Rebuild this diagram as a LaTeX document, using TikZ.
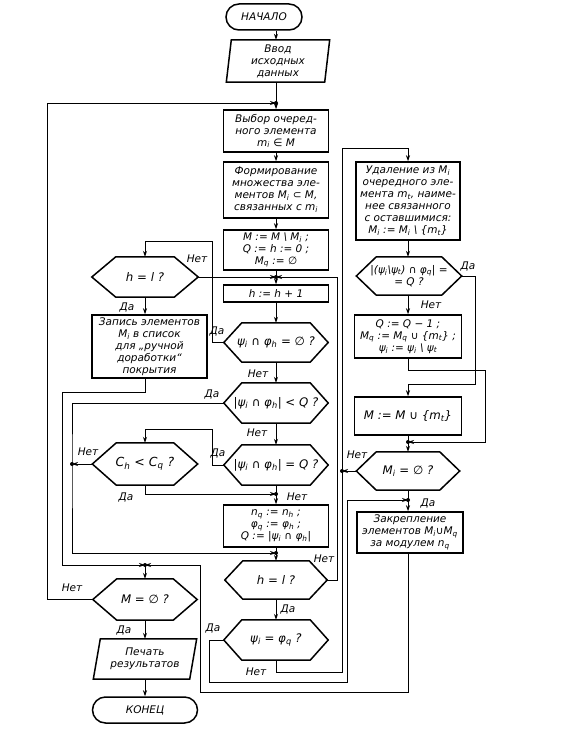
\documentclass[tikz,border=0pt]{standalone}
\usepackage{fontspec}
\setmainfont{DejaVu Sans}
\usetikzlibrary{arrows.meta,calc}
\newcommand\sbs[1]{\textsubscript{#1}}
\newcommand\fs{\fontsize{10.5}{12}\selectfont\itshape}
\newcommand\fsb{\fontsize{11.8}{13}\selectfont\itshape}
\newcommand\hexo[2][18]{\draw[line width=1.5pt] (#2.west) -- ($(#2.north west)+(#1,0)$) -- ($(#2.north east)+(-#1,0)$) -- (#2.east) -- ($(#2.south east)+(-#1,0)$) -- ($(#2.south west)+(#1,0)$) -- cycle;}
\newcommand\paro[2]{\draw[line width=1.5pt] ($(#1.north west)+(#2,0)$) -- (#1.north east) -- ($(#1.south east)+(-#2,0)$) -- (#1.south west) -- cycle;}
\tikzset{
 box/.style={draw, line width=1.5pt, rectangle, inner sep=0pt, align=center, font=\fs},
 pl/.style={rectangle, inner sep=0pt, align=center, font=\fs},
 hx/.style={rectangle, inner sep=0pt, align=center, font=\fsb},
 term/.style={draw, line width=1.5pt, rounded corners=13pt, inner sep=0pt, minimum height=26pt, align=center, font=\fs},
 conn/.style={line width=0.9pt},
 arr/.style={conn, -{Stealth[length=6pt,width=4pt]}},
 lab/.style={font=\fs, inner sep=0pt},
 dot/.style={circle, fill, inner sep=0pt, minimum size=4pt},
}
\begin{document}
\begin{tikzpicture}[x=1pt,y=-1pt]
\useasboundingbox (0,0) rectangle (577,738);
% main column
\node[term, minimum width=76pt] (start) at (264,17) {НАЧАЛО};
\node[pl, minimum width=103pt, minimum height=42pt] (input) at (278,61) {Ввод\\исходных\\данных};
\paro{input}{5}
\node[box, minimum width=105pt, minimum height=42pt] (select) at (276,131) {Выбор очеред-\\ного элемента\\m\sbs{i} ∈ M};
\node[box, minimum width=105pt, minimum height=56pt] (form) at (276,190) {Формирование\\множества эле-\\ментов M\sbs{i} ⊂ M,\\связанных с m\sbs{i}};
\node[box, minimum width=105pt, minimum height=40pt] (init) at (276,250) {M := M \textbackslash\ M\sbs{i} ;\\Q := h := 0 ;\\M\sbs{q} := ∅};
\node[box, minimum width=105pt, minimum height=17pt] (hplus) at (276,293.5) {h := h + 1};
\node[hx, minimum width=104pt, minimum height=39pt] (d1) at (276,342.5) {ψ\sbs{i} ∩ φ\sbs{h} = ∅ ?};
\hexo{d1}
\node[hx, minimum width=104pt, minimum height=40pt] (d2) at (276,403) {|ψ\sbs{i} ∩ φ\sbs{h}| < Q ?};
\hexo{d2}
\node[hx, minimum width=104pt, minimum height=40pt] (d3) at (276,465) {|ψ\sbs{i} ∩ φ\sbs{h}| = Q ?};
\hexo{d3}
\node[box, minimum width=105pt, minimum height=42pt] (nq) at (276,526) {n\sbs{q} := n\sbs{h} ;\\φ\sbs{q} := φ\sbs{h} ;\\Q := |ψ\sbs{i} ∩ φ\sbs{h}|};
\node[hx, minimum width=102pt, minimum height=38pt] (d4) at (276,580) {h = l ?};
\hexo{d4}
\node[hx, minimum width=104pt, minimum height=40pt] (d5) at (276,640) {ψ\sbs{i} = φ\sbs{q} ?};
\hexo{d5}
% left column
\node[hx, minimum width=106pt, minimum height=40pt] (L1) at (145,277) {h = l ?};
\hexo[24]{L1}
\node[box, minimum width=115pt, minimum height=63pt] (zap) at (149.5,346.5) {Запись элементов\\M\sbs{i} в список\\для „ручной\\доработки“\\покрытия};
\node[hx, minimum width=105pt, minimum height=42pt] (L2) at (145,464) {\fontsize{12.5}{13}\selectfont C\sbs{h} < C\sbs{q} ?};
\hexo[24]{L2}
\node[hx, minimum width=104pt, minimum height=41pt] (L3) at (145,599.5) {M = ∅ ?};
\hexo[24]{L3}
\node[pl, minimum width=103pt, minimum height=40pt] (print) at (145,659) {Печать\\результатов};
\paro{print}{7}
\node[term, minimum width=105pt] (end) at (145,710) {КОНЕЦ};
% right column
\node[box, minimum width=104pt, minimum height=78pt] (del) at (408,201) {Удаление из M\sbs{i}\\очередного эле-\\мента m\sbs{t}, наиме-\\нее связанного\\с оставшимися:\\M\sbs{i} := M\sbs{i} \textbackslash\ \{m\sbs{t}\}};
\node[pl, minimum width=105pt, minimum height=38pt] (R1) at (409,276) {|(ψ\sbs{i}\textbackslash ψ\sbs{t}) ∩ φ\sbs{q}| =\\= Q ?};
\hexo[20]{R1}
\node[box, minimum width=107pt, minimum height=43pt] (qb) at (408,336.5) {Q := Q − 1 ;\\M\sbs{q} := M\sbs{q} ∪ \{m\sbs{t}\} ;\\ψ\sbs{i} := ψ\sbs{i} \textbackslash\ ψ\sbs{t}};
\node[box, minimum width=107pt, minimum height=38pt, font=\fsb] (mu) at (408,416) {M := M ∪ \{m\sbs{t}\}};
\node[hx, minimum width=103pt, minimum height=38pt] (R2) at (408,471) {M\sbs{i} = ∅ ?};
\hexo[20]{R2}
\node[box, minimum width=106pt, minimum height=41pt] (fix) at (410,532.5) {Закрепление\\элементов M\sbs{i}∪M\sbs{q}\\за модулем n\sbs{q}};
% junctions
\node[dot] (J1) at (276,103) {};
\node[dot] (J2) at (276,277) {};
\node[dot] (J3) at (276,494) {};
\node[dot] (J4) at (276,553) {};
\node[dot] (J5) at (145,565) {};
\node[dot] (J6) at (408,442) {};
\node[dot] (J7) at (408,500) {};
\node[dot] (K1) at (72,464) {};
\node[dot] (K2) at (342,471) {};
% connectors
\draw[arr] (start.south -| J1) -- (input.north -| J1);
\draw[conn] (input.south -| J1) -- (J1.center);
\draw[arr] (J1.center) -- (select.north);
\draw[arr] (L3.west) -- ++(-45,0) |- (J1.center);
\draw[arr] (select.south) -- (form.north);
\draw[arr] (form.south) -- (init.north);
\draw[conn] (init.south) -- (J2.center);
\draw[arr] (J2.center) -- (hplus.north);
\draw[arr] (L1.east) -- (J2.center);
\draw[arr] (d4.east) -- (337,580) |- (J2.center);
\draw[arr] (hplus.south) -- (d1.north);
\draw[arr] (d1.west) -- (212,342.5) |- ($(L1.north)+(0,-15)$) -- (L1.north);
\draw[arr] (d1.south) -- (d2.north);
\draw[arr] (d2.west) -| (K1.center) |- (J4.center);
\draw[arr] (L2.west) -- (K1.center);
\draw[arr] (d2.south) -- (d3.north);
\draw[arr] (d3.west) -- (212,465) |- ($(L2.north)+(0,-13)$) -- (L2.north);
\draw[conn] (d3.south) -- (J3.center);
\draw[arr] (J3.center) -- (nq.north);
\draw[arr] (L2.south) |- (J3.center);
\draw[conn] (nq.south) -- (J4.center);
\draw[arr] (J4.center) -- (d4.north);
\draw[arr] (d4.south) -- (d5.north);
\draw[arr] (d5.west) -- (209,640) |- (347,682) |- (J7.center);
\draw[arr] (d5.south) |- (342,672) -- (342,148) -| (del.north);
\draw[arr] (R2.west) -- (K2.center);
\draw[arr] (L1.south) -- (L1.south |- zap.north);
\draw[arr] (zap.south -| L1.south) -- ++(0,14) -| (62,565) -- (J5.center);
\draw[arr] (fix.south -| J7) |- (200,692) |- (J5.center);
\draw[arr] (J5.center) -- (L3.north);
\draw[arr] (L3.south) -- (print.north);
\draw[arr] (print.south) -- (end.north);
\draw[arr] (del.south) -- (del.south |- R1.north);
\draw[arr] (R1.south -| qb) -- (qb.north);
\draw[arr] (R1.east) -- (475,276) |- ($(mu.north)+(0,-12)$) -- (mu.north);
\draw[arr] (qb.south) -- ++(0,12) -| (485,442) -- (J6.center);
\draw[conn] (mu.south) -- (J6.center);
\draw[arr] (J6.center) -- (R2.north);
\draw[conn] (R2.south) -- (J7.center);
\draw[arr] (J7.center) -- (fix.north -| J7);
% labels
\node[lab] (t1) at (197,259) {Нет};
\node[lab] (t2) at (127,307) {Да};
\node[lab] (t3) at (217,331) {Да};
\node[lab] (t4) at (258,374) {Нет};
\node[lab] (t5) at (212,394) {Да};
\node[lab] (t6) at (257,433) {Нет};
\node[lab] (t7) at (218,453) {Да};
\node[lab] (t8) at (297,497) {Нет};
\node[lab] (t9) at (88,452) {Нет};
\node[lab] (t10) at (126,497) {Да};
\node[lab] (t11) at (324,559) {Нет};
\node[lab] (t12) at (288,609) {Да};
\node[lab] (t13) at (213,628) {Да};
\node[lab] (t14) at (256,672) {Нет};
\node[lab] (t15) at (72,588) {Нет};
\node[lab] (t16) at (124,630) {Да};
\node[lab] (t17) at (468,266) {Да};
\node[lab] (t18) at (431,305) {Нет};
\node[lab] (t19) at (357,455) {Нет};
\node[lab] (t20) at (428,503) {Да};
\end{tikzpicture}
\end{document}
